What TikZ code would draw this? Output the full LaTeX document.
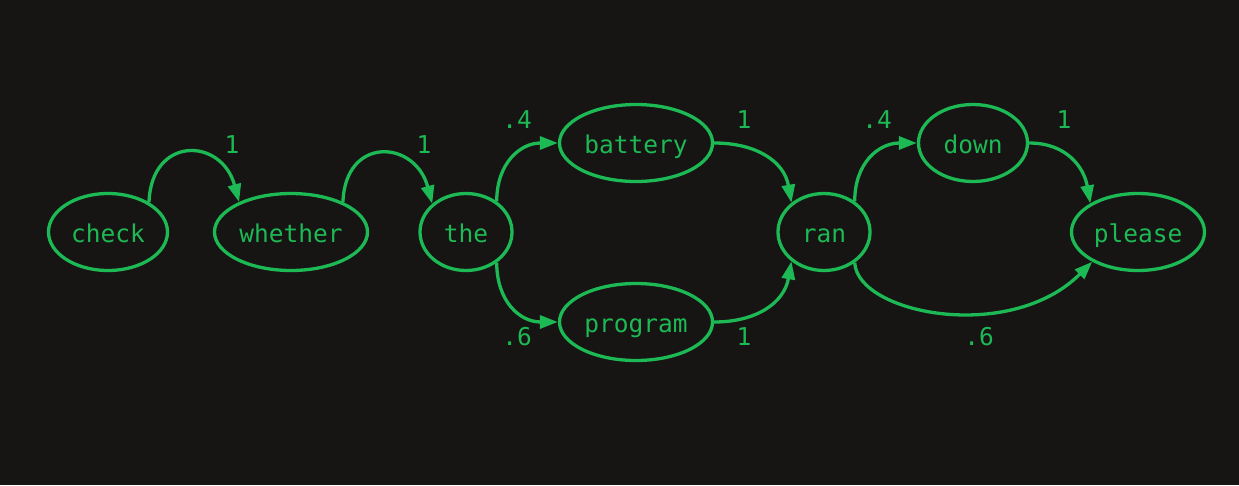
\documentclass[tikz,border=0pt]{standalone}
\usepackage{fontspec}
\setmonofont{DejaVu Sans Mono}
\usetikzlibrary{arrows.meta,shapes.geometric,positioning,calc}
\definecolor{bgdark}{HTML}{171414}
\definecolor{termgreen}{HTML}{1DB954}
\tikzset{x=1pt, y=-1pt, % One unit is one pixel of the reference, y downwards
        word/.style={ % Sets the properties for each word
            ellipse,
            draw=termgreen,
            line width=3.3pt,
            inner sep=0pt,
            minimum height=77,
            text height=21pt, % Puts the baseline a bit under the centre
            text depth=0pt,
            text=termgreen,
            font=\ttfamily\fontsize{24.5}{28}\selectfont},
        lbl/.style={ % Weights on the transitions
            text=termgreen,
            inner sep=0pt,
            font=\ttfamily\fontsize{24.5}{28}\selectfont},
        every edge/.style={ % Sets the properties for each transition
            draw=termgreen,
            -{Triangle[length=18pt,width=13pt]},
            line width=3.3pt}
        }

\begin{document}
\begin{tikzpicture}
    \fill[bgdark] (0,0) rectangle (1239,485);
    \useasboundingbox (0,0) rectangle (1239,485);

    \node[word, minimum width=119] (check) at (108,232) {check};
    \node[word, minimum width=153] (whether) at (291,232) {whether};
    \node[word, minimum width=92] (the) at (466,232) {the};
    \node[word, minimum width=153] (battery) at (636,143) {battery};
    \node[word, minimum width=153] (program) at (636,322) {program};
    \node[word, minimum width=92] (ran) at (824,232) {ran};
    \node[word, minimum width=109] (down) at (973,143) {down};
    \node[word, minimum width=133] (please) at (1138,232) {please};

    \draw (check.36) edge[out=88, in=105, looseness=1.9] (whether.150);
    \draw (whether.30) edge[out=88, in=105, looseness=1.9] (the.140);
    \draw (the.45) edge[out=90, in=180, looseness=1.15] (battery.west);
    \draw (the.-45) edge[out=-90, in=180, looseness=1.15] (program.west);
    \draw (battery.east) edge[out=0, in=100, looseness=1.1] (ran.138);
    \draw (program.east) edge[out=0, in=-100, looseness=1.1] (ran.-138);
    \draw (ran.45) edge[out=90, in=180, looseness=1.15] (down.west);
    \draw (down.east) edge[out=0, in=100, looseness=1.1] (please.149);
    \draw (ran.-45) edge[out=-87, in=-135, out looseness=0.55, in looseness=1.25] (please.-147);

    \node[lbl] (w1) at (232,145) {1};
    \node[lbl] (w2) at (424,145) {1};
    \node[lbl] (w3) at (517,120) {.4};
    \node[lbl] (w4) at (517,337) {.6};
    \node[lbl] (w5) at (744,120) {1};
    \node[lbl] (w6) at (744,337) {1};
    \node[lbl] (w7) at (877,120) {.4};
    \node[lbl] (w8) at (1064,120) {1};
    \node[lbl] (w9) at (979,337) {.6};
\end{tikzpicture}
\end{document}
